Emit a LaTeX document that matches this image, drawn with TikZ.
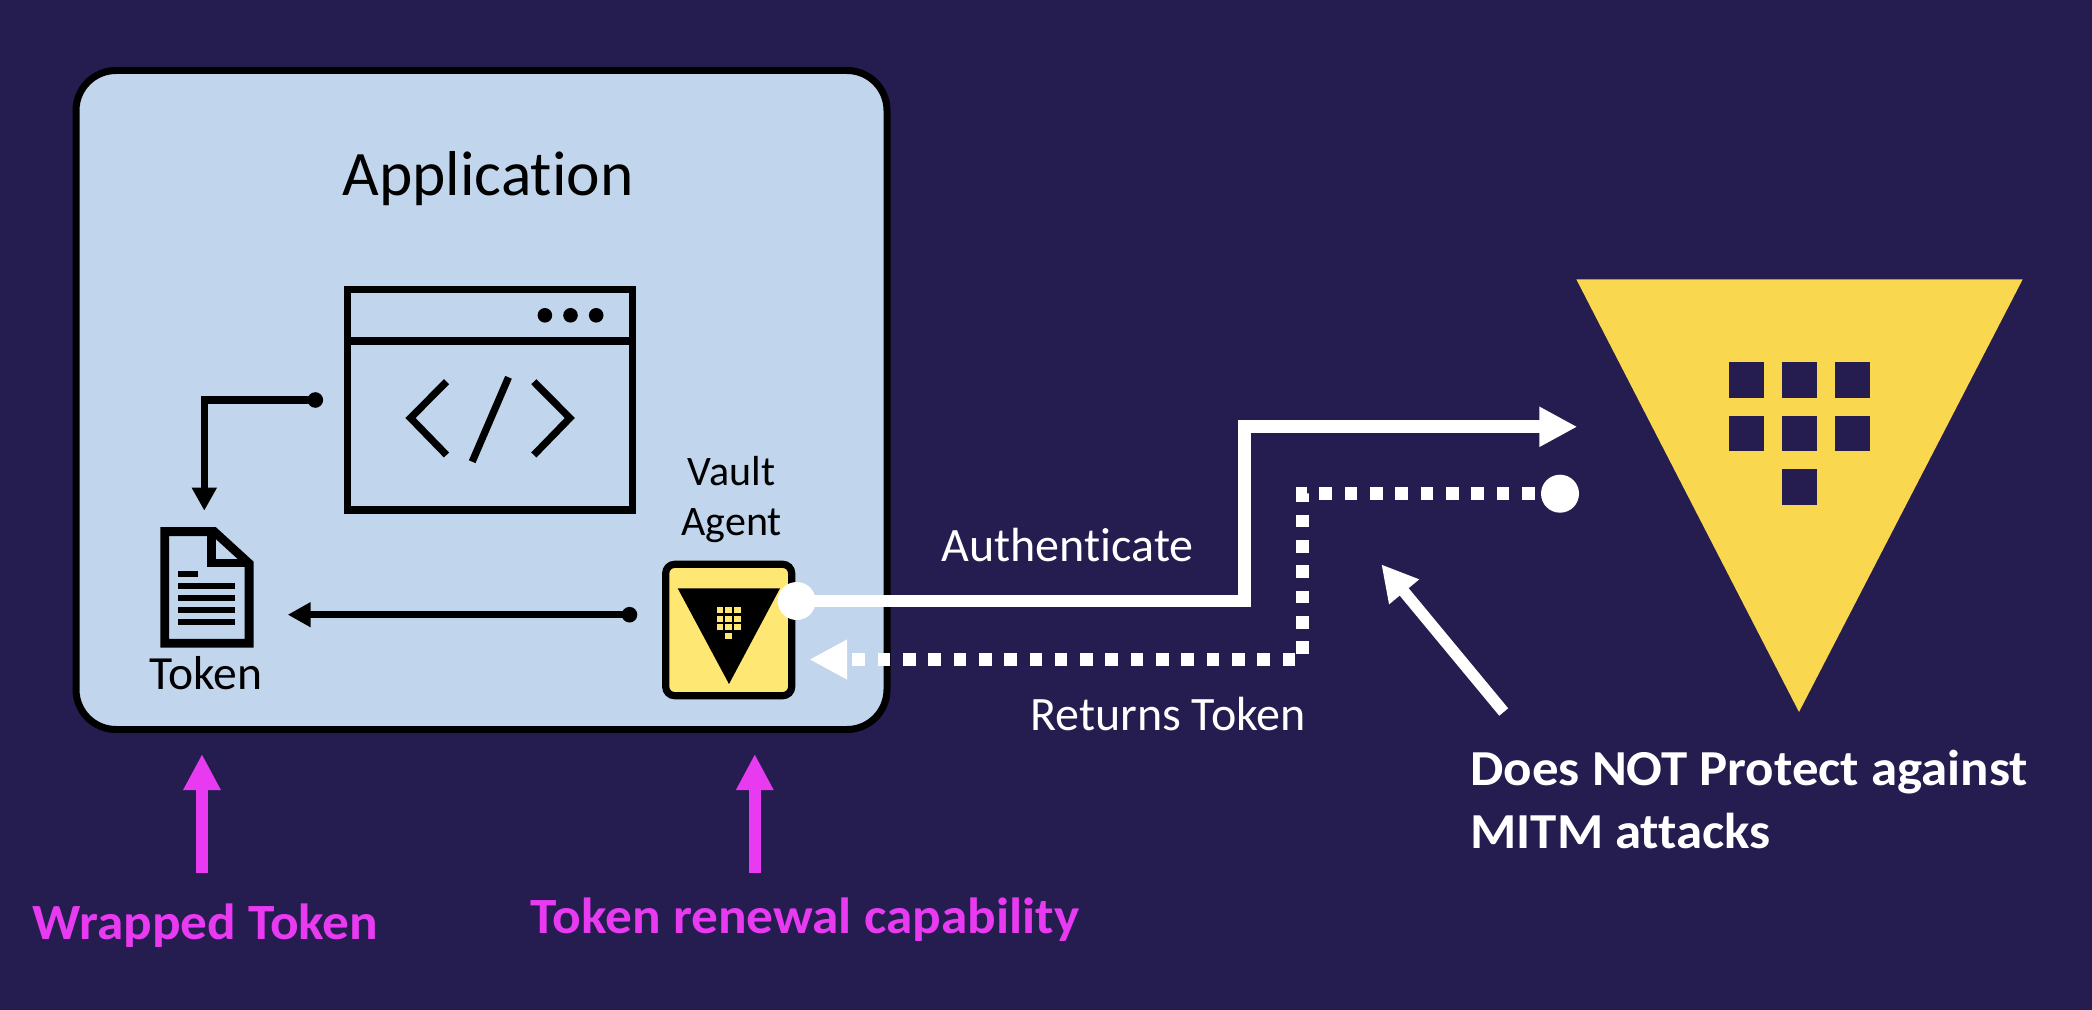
\documentclass[tikz,border=0pt]{standalone}
\usepackage{fontspec}
\setmainfont[RawFeature={-liga}]{Carlito}
\newfontfamily\widebf[FakeStretch=1.05,RawFeature={-liga}]{Carlito}
\usetikzlibrary{arrows.meta}
\definecolor{bgc}{HTML}{251C50}
\definecolor{appfill}{HTML}{C1D6EC}
\definecolor{gold}{HTML}{F9D74E}
\definecolor{paleyellow}{HTML}{FEE873}
\definecolor{magentac}{HTML}{E83AF0}
\tikzset{
  x=0.5pt,y=-0.5pt,
  txt/.style={anchor=base,inner sep=0pt,outer sep=0pt,align=center},
  appbox/.style={draw=black,fill=appfill,line width=3.5pt,rounded corners=20pt,inner sep=0pt,outer sep=0pt,minimum width=405.5pt,minimum height=329.5pt},
  agentbox/.style={draw=black,fill=paleyellow,line width=3.6pt,rounded corners=4.5pt,inner sep=0pt,outer sep=0pt,minimum width=63pt,minimum height=65.7pt},
  icon/.style={draw=black,line width=3.6pt,miter limit=10},
  blackdot/.style={circle,fill=black,inner sep=0pt,outer sep=0pt,minimum size=7.8pt},
  whitedot/.style={circle,fill=white,inner sep=0pt,outer sep=0pt,minimum size=19pt},
  blackline/.style={draw=black,line width=3.5pt,-{Triangle[length=11.5pt,width=11.8pt]}},
  whiteline/.style={draw=white,line width=6.4pt,miter limit=10},
  magline/.style={draw=magentac,line width=6pt,-{Triangle[length=18pt,width=17.5pt]}},
}
\begin{document}
\begin{tikzpicture}
\useasboundingbox (0,0) rectangle (2092,1010);
\fill[bgc] (0,0) rectangle (2092,1010);

% application box
\node[appbox] (app) at (481.5,400) {};
\node[txt,font=\fontsize{31.7}{36}\selectfont] (apptitle) at (488,195.7) {Application};

% browser window icon
\draw[icon] (347.2,289.5) rectangle (632.7,510);
\draw[icon] (347.2,341) -- (632.7,341);
\fill[black] (544.9,315.3) circle[radius=7.3] (570.5,315.3) circle[radius=7.3] (596.2,315.3) circle[radius=7.3];
\draw[icon] (446.5,381.7) -- (410.5,418) -- (446.5,455);
\draw[icon] (533.8,381.7) -- (569.8,418) -- (533.8,455);
\draw[icon] (508.5,377.3) -- (472.2,461.7);

% document icon
\draw[icon,line width=4.4pt] (164.7,531.6) -- (214.2,531.6) -- (249.1,563.5) -- (249.1,643.3) -- (164.7,643.3) -- cycle;
\draw[icon,line width=4.2pt] (211.6,533) -- (211.6,563) -- (249,563);
\fill[black] (178,571) rectangle (197.8,577);
\fill[black] (178,583) rectangle (235.3,589);
\fill[black] (178,595) rectangle (235.3,601);
\fill[black] (178,607) rectangle (235.3,613);
\fill[black] (178,619) rectangle (235.3,625);
\node[txt,font=\fontsize{23.8}{27}\selectfont] (tokenlabel) at (206,689) {Token};

% agent box
\node[txt,font=\fontsize{21}{25}\selectfont] (vaultlabel) at (731.6,485.7) {Vault};
\node[txt,font=\fontsize{21}{25}\selectfont] (agentlabel) at (731.6,535) {Agent};
\node[agentbox] (agent) at (728.7,630) {};
\fill[black] (677.7,588.3) -- (780,588.3) -- (729,684) -- cycle;
\foreach \cx in {716.7,725.4,734.4}{
  \foreach \cy in {607.3,615.9,624.2}{
    \fill[paleyellow] (\cx,\cy) rectangle ++(6.3,6.1);
  }
}
\fill[paleyellow] (725.4,632.6) rectangle ++(6.3,6.1);

% black connectors
\node[blackdot] (codedot) at (315.3,400) {};
\coordinate (codebend) at (204.3,400);
\coordinate (docin) at (204.3,510.7);
\draw[blackline] (codedot.center) -- (codebend) -- (docin);
\node[blackdot] (agentdot) at (629.5,614.7) {};
\coordinate (docside) at (287.7,614.7);
\draw[blackline] (agentdot.center) -- (docside);

% Vault logo
\fill[gold] (1576.3,279.3) -- (2022.7,279.3) -- (1799,712) -- cycle;
\foreach \cx in {1728.7,1781.7,1834.7}{
  \foreach \cy in {362.3,415.7}{
    \fill[bgc] (\cx,\cy) rectangle ++(35.6,35.6);
  }
}
\fill[bgc] (1781.7,469) rectangle ++(35.6,35.6);

% authenticate connector
\node[whitedot] (authstart) at (796.7,601) {};
\coordinate (auth1) at (1244.5,601);
\coordinate (auth2) at (1244.5,426.8);
\coordinate (authend) at (1577.3,426.8);
\draw[whiteline,-{Triangle[length=19pt,width=18.8pt]}] (authstart.center) -- (auth1) -- (auth2) -- (authend);

% returns token connector
\node[whitedot] (retstart) at (1560,493.7) {};
\coordinate (ret1) at (1302.4,493.7);
\coordinate (ret2) at (1302.4,659.5);
\coordinate (retend) at (809.3,659.5);
\draw[whiteline,dash pattern=on 6.33pt off 6.33pt,-{Triangle[length=18.9pt,width=18.6pt]}] (retstart.center) -- (ret1) -- (ret2) -- (retend);

% labels
\node[txt,text=white,font=\fontsize{24}{28}\selectfont] (authlabel) at (1067.5,561.7) {Authenticate};
\node[txt,text=white,font=\fontsize{24}{28}\selectfont] (retlabel) at (1168,730) {Returns Token};

% MITM arrow
\coordinate (mitmtail) at (1503.7,712);
\coordinate (mitmtip) at (1381.3,564.3);
\draw[draw=white,line width=5.8pt,-{Triangle[length=17.9pt,width=18.2pt]}] (mitmtail) -- (mitmtip);
\node[txt,text=white,anchor=base west,font=\widebf\fontsize{25.2}{30}\bfseries\selectfont] (mitm1) at (1470.5,785) {Does NOT Protect against};
\node[txt,text=white,anchor=base west,font=\widebf\fontsize{25.2}{30}\bfseries\selectfont] (mitm2) at (1470.5,848.3) {MITM attacks};

% magenta arrows
\coordinate (wrapbottom) at (202,873.3);
\coordinate (wraptip) at (202,754);
\draw[magline] (wrapbottom) -- (wraptip);
\coordinate (renewbottom) at (754.8,873.3);
\coordinate (renewtip) at (754.8,754);
\draw[magline] (renewbottom) -- (renewtip);
\node[txt,text=magentac,font=\widebf\fontsize{25.4}{30}\bfseries\selectfont] (wraplabel) at (205.5,939.3) {Wrapped Token};
\node[txt,text=magentac,font=\widebf\fontsize{25.4}{30}\bfseries\selectfont] (renewlabel) at (805,933.3) {Token renewal capability};
\end{tikzpicture}
\end{document}
